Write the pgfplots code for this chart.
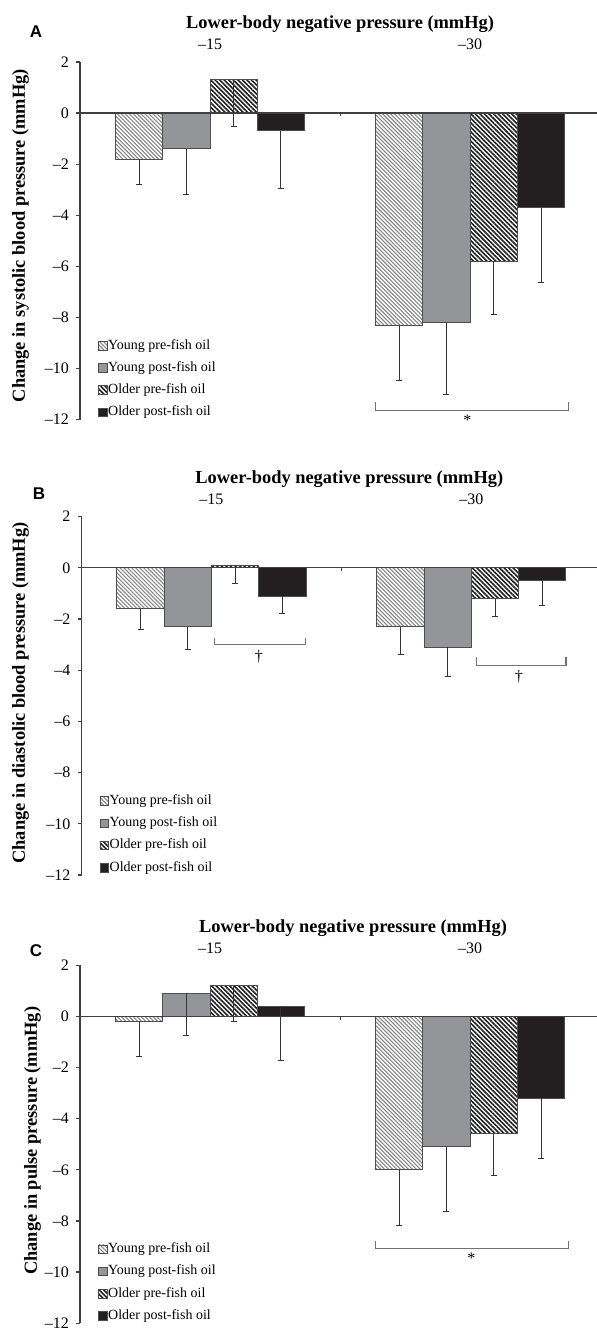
\documentclass[border=0pt]{standalone}
\usepackage{fontspec}
\setmainfont{Liberation Serif}
\newfontfamily\sansf{Liberation Sans}
\usepackage{pgfplots}
\pgfplotsset{compat=1.18}
\usetikzlibrary{patterns.meta}

\definecolor{ypo}{HTML}{939598}
\definecolor{opo}{HTML}{231F20}
\definecolor{edge}{HTML}{4D4D4D}

\pgfplotsset{
 panel/.style={
   scale only axis, anchor=north west,
   xmin=0, ymin=-12, ymax=2,
   ybar, bar width=0.181818, bar shift=0pt,
   axis y line*=left, axis x line*=top,
   x axis line style={draw=none},
   xtick={0.5,1.5}, xticklabels={–15,–30}, xtick style={draw=none},
   xticklabel style={anchor=base, yshift=4pt},
   ytick={-12,-10,...,2}, yticklabels={–12,–10,–8,–6,–4,–2,0,2},
   tick align=outside, major tick length=2pt,
   y axis line style={black!75, line width=0.6pt},
   ytick style={black!75, line width=0.6pt},
   tick label style={font=\fontsize{8}{9}\selectfont},
   clip=false,
   enlargelimits=false,
   legend style={draw=none, fill=none, at={(axis cs:0.045,-8.65)}, anchor=north west,
     font=\fontsize{7}{8}\selectfont, row sep=3.8pt,
     nodes={inner sep=0.4pt, text height=5pt, text depth=1.5pt}},
   legend cell align=left,
   legend entries={Young pre-fish oil, Young post-fish oil, Older pre-fish oil, Older post-fish oil},
 },
 legsq/.style={legend image code/.code={\draw[##1, draw=edge, line width=0.35pt] (0pt,-2.15pt) rectangle (4.3pt,2.15pt);}},
 errs/.style={error bars/.cd, y dir=minus, y explicit,
   error bar style={draw=black!80, line width=0.5pt},
   error mark options={rotate=90, mark size=1.5pt, draw=black!80, line width=0.5pt}},
 yp/.style={legsq, draw=edge, line width=0.5pt, pattern={Lines[angle=-45,distance=1.4pt,line width=0.55pt]}, pattern color=black!48, errs},
 ypo/.style={legsq, draw=edge, line width=0.5pt, fill=ypo, errs},
 op/.style={legsq, draw=edge, line width=0.5pt, pattern={Lines[angle=-45,distance=1.6pt,line width=0.8pt]}, pattern color=black!88, errs},
 opo/.style={legsq, draw=edge, line width=0.5pt, fill=opo, errs},
}
\newcommand{\zeroline}{%
  \draw[black!75, line width=0.6pt] (axis cs:0,0) -- (axis cs:2.1,0);
  \draw[black!75, line width=0.5pt] (axis cs:1,0) -- ([yshift=-1.7pt]axis cs:1,0);
}
\newcommand{\paneltitle}[1]{%
  \node[anchor=base, font=\fontsize{9.2}{11}\selectfont\bfseries, inner sep=0pt] at (axis cs:#1,2) [yshift=16.5pt] {Lower-body negative pressure (mmHg)};
}

\begin{document}
\begin{tikzpicture}
% ---------- Panel A ----------
\begin{axis}[panel, at={(40pt,-31pt)}, width=258.5pt, height=178.8pt, xmax=1.988]
\addplot[yp] coordinates {(0.2273,-1.8) +- (0,1.0) (1.2273,-8.3) +- (0,2.15)};
\addplot[ypo] coordinates {(0.4091,-1.4) +- (0,1.77) (1.4091,-8.2) +- (0,2.83)};
\addplot[op] coordinates {(0.5909,1.3) +- (0,1.83) (1.5909,-5.8) +- (0,2.09)};
\addplot[opo] coordinates {(0.7727,-0.7) +- (0,2.25) (1.7727,-3.7) +- (0,2.93)};
\zeroline
\paneltitle{1.0}
\draw[black!55, line width=0.6pt] (axis cs:1.137,-11.33) -- (axis cs:1.137,-11.63) -- (axis cs:1.877,-11.63) -- (axis cs:1.877,-11.33);
\node[anchor=north, inner sep=0pt, font=\fontsize{8}{9}\selectfont] at (axis cs:1.49,-11.79) {*};
\end{axis}
% ---------- Panel B ----------
\begin{axis}[panel, at={(40.75pt,-258.35pt)}, width=257.75pt, height=179.15pt, xmax=1.983]
\addplot[yp] coordinates {(0.2273,-1.6) +- (0,0.8) (1.2273,-2.3) +- (0,1.1)};
\addplot[ypo] coordinates {(0.4091,-2.3) +- (0,0.9) (1.4091,-3.1) +- (0,1.16)};
\addplot[op] coordinates {(0.5909,0.1) +- (0,0.7) (1.5909,-1.2) +- (0,0.68)};
\addplot[opo] coordinates {(0.7727,-1.1) +- (0,0.7) (1.7727,-0.5) +- (0,0.96)};
\zeroline
\paneltitle{1.03}
\draw[black!55, line width=0.6pt] (axis cs:0.513,-2.73) -- (axis cs:0.513,-3.0) -- (axis cs:0.862,-3.0) -- (axis cs:0.862,-2.73);
\node[anchor=north, inner sep=0pt, font=\fontsize{8}{9}\selectfont] at (axis cs:0.682,-3.19) {†};
\draw[black!55, line width=0.6pt] (axis cs:1.52,-3.5) -- (axis cs:1.52,-3.8) -- (axis cs:1.864,-3.8) -- (axis cs:1.864,-3.5);
\node[anchor=north, inner sep=0pt, font=\fontsize{8}{9}\selectfont] at (axis cs:1.682,-3.99) {†};
\end{axis}
% ---------- Panel C ----------
\begin{axis}[panel, at={(40pt,-482.6pt)}, width=258.5pt, height=179pt, xmax=1.988]
\addplot[yp] coordinates {(0.2273,-0.2) +- (0,1.37) (1.2273,-6.0) +- (0,2.19)};
\addplot[ypo] coordinates {(0.4091,0.9) +- (0,1.63) (1.4091,-5.1) +- (0,2.54)};
\addplot[op] coordinates {(0.5909,1.2) +- (0,1.41) (1.5909,-4.6) +- (0,1.64)};
\addplot[opo] coordinates {(0.7727,0.4) +- (0,2.13) (1.7727,-3.2) +- (0,2.34)};
\zeroline
\paneltitle{1.05}
\draw[black!55, line width=0.6pt] (axis cs:1.135,-8.79) -- (axis cs:1.135,-9.07) -- (axis cs:1.877,-9.07) -- (axis cs:1.877,-8.79);
\node[anchor=north, inner sep=0pt, font=\fontsize{8}{9}\selectfont] at (axis cs:1.505,-9.23) {*};
\end{axis}
% ---------- panel letters and y labels ----------
\node[font=\sansf\bfseries\fontsize{8.5}{10}\selectfont, inner sep=0pt] at (18pt,-15.85pt) {A};
\node[font=\sansf\bfseries\fontsize{8.5}{10}\selectfont, inner sep=0pt] at (19.5pt,-247pt) {B};
\node[font=\sansf\bfseries\fontsize{8.5}{10}\selectfont, inner sep=0pt] at (18pt,-475.5pt) {C};
\node[rotate=90, font=\fontsize{9.2}{11}\selectfont\bfseries, inner sep=0pt] at (10.2pt,-117.8pt) {Change in systolic blood pressure (mmHg)};
\node[rotate=90, font=\fontsize{9.2}{11}\selectfont\bfseries, inner sep=0pt] at (10.2pt,-346.5pt) {Change in diastolic blood pressure (mmHg)};
\node[rotate=90, font=\fontsize{9.2}{11}\selectfont\bfseries, inner sep=0pt] at (16.2pt,-570.4pt) {Change in pulse pressure (mmHg)};
\pgfresetboundingbox
\useasboundingbox (0,0) rectangle (298.5pt,-665.5pt);
\end{tikzpicture}
\end{document}
